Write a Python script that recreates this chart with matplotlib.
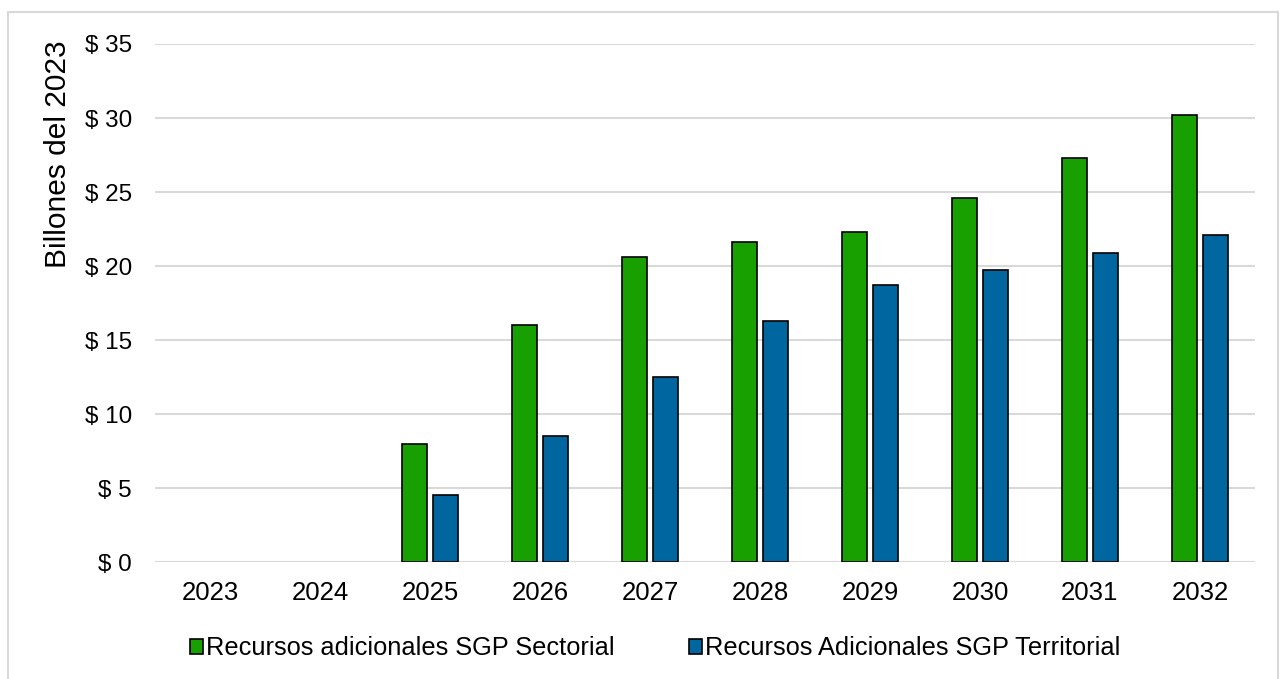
import matplotlib.pyplot as plt
from matplotlib.patches import Rectangle
import numpy as np

plt.rcParams['font.family'] = ['Liberation Sans', 'DejaVu Sans']

years = ['2023', '2024', '2025', '2026', '2027', '2028', '2029', '2030', '2031', '2032']
sectorial = [0, 0, 8.0, 16.0, 20.6, 21.6, 22.3, 24.6, 27.3, 30.2]
territorial = [0, 0, 4.5, 8.5, 12.5, 16.3, 18.7, 19.7, 20.9, 22.1]
yticks = [0, 5, 10, 15, 20, 25, 30, 35]

green = '#17a000'
blue = '#00669f'

fig = plt.figure(figsize=(12.85, 6.79), dpi=100)
ax = fig.add_axes([0.1206, 0.1723, 0.856, 0.7629])

# light outer frame like the source image
fig.patches.append(Rectangle((8 / 1285, -0.01), 1270 / 1285, 1 - 12 / 679 + 0.01,
                             transform=fig.transFigure, fill=False,
                             edgecolor='#d9d9d9', linewidth=1.5))

x = np.arange(len(years))
w = 0.23
# zero years have no visible bar in the source
sec = np.where(np.array(sectorial) > 0, sectorial, np.nan)
ter = np.where(np.array(territorial) > 0, territorial, np.nan)
ax.bar(x - 0.14, sec, w, color=green, edgecolor='black', linewidth=1.2,
       label='Recursos adicionales SGP Sectorial', zorder=3)
ax.bar(x + 0.14, ter, w, color=blue, edgecolor='black', linewidth=1.2,
       label='Recursos Adicionales SGP Territorial', zorder=3)

ax.set_xlim(-0.5, len(years) - 0.5)
ax.set_ylim(0, 35)
ax.set_yticks(yticks)
ax.set_yticklabels([f'$ {v}' for v in yticks])
ax.set_xticks(x)
ax.set_xticklabels(years)
ax.tick_params(length=0)
ax.tick_params(axis='y', pad=16.5, labelsize=17.5)
ax.tick_params(axis='x', pad=14, labelsize=18.5)
ax.grid(axis='y', color='#d9d9d9', linewidth=1.5, zorder=0)
for s in ax.spines.values():
    s.set_visible(False)

ax.set_ylabel('Billones del 2023', fontsize=21.5)
ax.yaxis.set_label_coords(-0.075, 0.788)

fig.legend(loc='center', bbox_to_anchor=(0.510, 0.045), ncol=2, frameon=False,
           fontsize=18.3, handlelength=0.5, handleheight=0.5, handletextpad=0.15,
           columnspacing=2.9)

fig.savefig('out.png', dpi=100)
